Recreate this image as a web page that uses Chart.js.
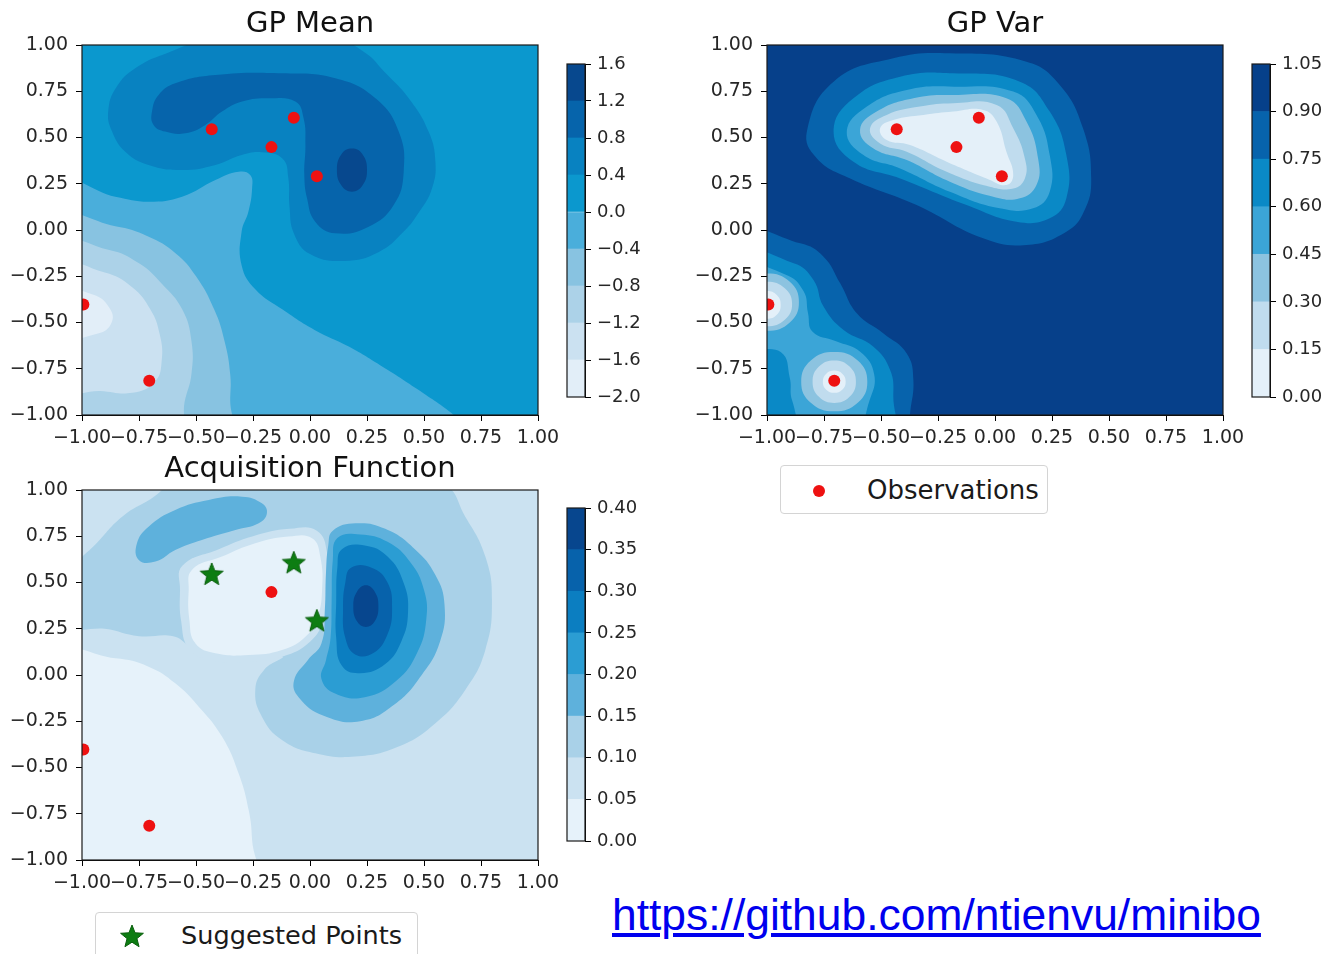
<!DOCTYPE html>
<html>
<head>
<meta charset="utf-8">
<title>GP Mean / GP Var / Acquisition Function</title>
<script src="https://cdn.jsdelivr.net/npm/chart.js@4.4.1/dist/chart.umd.min.js"></script>
<style>
  body { margin: 0; background: #fff; }
  #page { position: relative; width: 1326px; height: 954px; overflow: hidden; font-family: 'DejaVu Sans', sans-serif; color: #1a1a1a; }
  .pane { position: absolute; }
  .legend { position: absolute; box-sizing: border-box; border: 1px solid #d4d4d4; border-radius: 4px; background: #fff; }
  .legend .txt { position: absolute; white-space: nowrap; line-height: 1; }
  .legend .dot { position: absolute; width: 12px; height: 12px; border-radius: 50%; background: #ee1111; }
  .legend canvas { position: absolute; }
  #url { position: absolute; left: 612px; top: 893px; font: 44.4px/44px 'Liberation Sans', Arial, sans-serif; color: #0000ee; text-decoration: underline; white-space: nowrap; }
</style>
</head>
<body>
<div id="page">
  <div class="pane" style="left:0;top:0;width:570px;height:450px"><canvas id="meanChart"></canvas></div>
  <div class="pane" style="left:555px;top:40px;width:105px;height:380px"><canvas id="meanBar"></canvas></div>
  <div class="pane" style="left:685px;top:0;width:570px;height:450px"><canvas id="varChart"></canvas></div>
  <div class="pane" style="left:1240px;top:40px;width:86px;height:380px"><canvas id="varBar"></canvas></div>
  <div class="pane" style="left:0;top:445px;width:570px;height:450px"><canvas id="acqChart"></canvas></div>
  <div class="pane" style="left:555px;top:484px;width:105px;height:380px"><canvas id="acqBar"></canvas></div>

  <div class="legend" style="left:780px;top:465px;width:268px;height:49px">
    <span class="dot" style="left:32px;top:19px"></span>
    <span class="txt" style="left:86px;top:11px;font-size:26px">Observations</span>
  </div>
  <div class="legend" id="sugLegend" style="left:95px;top:912px;width:323px;height:60px">
    <span class="txt" style="left:85px;top:10px;font-size:25.6px">Suggested Points</span>
  </div>
  <div id="url">https://github.com/ntienvu/minibo</div>
</div>
<script>
'use strict';

// ── POINTS ──
const OBS_X = [-0.431, -0.169, -0.071, 0.030, -0.994, -0.705];
const OBS_Y = [0.544, 0.448, 0.607, 0.290, -0.403, -0.815];
const SUGGEST_X = [-0.431, -0.071, 0.030];
const SUGGEST_Y = [0.541, 0.604, 0.290];

// ── TICKS / LEVELS ──
const AXIS_TICKS = [-1, -0.75, -0.5, -0.25, 0, 0.25, 0.5, 0.75, 1];
const MEAN_LEVELS = [-2.0, -1.6, -1.2, -0.8, -0.4, 0.0, 0.4, 0.8, 1.2, 1.6];
const VAR_LEVELS = [0, 0.15, 0.30, 0.45, 0.60, 0.75, 0.90, 1.05];
const ACQ_LEVELS = [0, 0.05, 0.10, 0.15, 0.20, 0.25, 0.30, 0.35, 0.40];

const MEAN_COLORS = ['#e2eef8', '#cbe1f1', '#acd2e8', '#88c3e1', '#4aaedb', '#0b98ce', '#0882c1', '#0664ab', '#07488e'];
const VAR_COLORS = ['#e4f0f9', '#c0dcee', '#8cc3e0', '#3ba5d7', '#0a89c6', '#0763ac', '#06408a'];
const ACQ_COLORS = ['#e6f2fa', '#cbe2f1', '#a9d1e8', '#5eb1dc', '#2b9dd3', '#0b7ec1', '#0762ab', '#07468e'];

// ── CONTOUR OUTLINES (data coords) ──
const FULL = [[-1.5, -1.5], [1.5, -1.5], [1.5, 1.5], [-1.5, 1.5]];

const MEAN_LOW_B4 = [[-1.1, 0.24], [-0.854, 0.18], [-0.708, 0.153], [-0.561, 0.18], [-0.415, 0.27], [-0.313, 0.315], [-0.262, 0.297], [-0.254, 0.225], [-0.27, 0.10], [-0.30, -0.01], [-0.30, -0.19], [-0.24, -0.32], [-0.12, -0.43], [0.02, -0.54], [0.17, -0.63], [0.32, -0.74], [0.47, -0.86], [0.65, -1.02], [0.75, -1.15], [-1.15, -1.15]];
const MEAN_LOW_B3 = [[-1.1, 0.05], [-0.854, 0.02], [-0.71, -0.035], [-0.59, -0.125], [-0.50, -0.25], [-0.42, -0.43], [-0.375, -0.6], [-0.35, -0.78], [-0.35, -0.92], [-0.355, -1.15], [-1.15, -1.15]];
const MEAN_LOW_B2 = [[-1.1, -0.085], [-0.88, -0.108], [-0.75, -0.18], [-0.65, -0.29], [-0.56, -0.43], [-0.52, -0.6], [-0.52, -0.78], [-0.55, -0.93], [-0.58, -1.15], [-1.15, -1.15]];
const MEAN_LOW_B1 = [[-1.1, -0.2], [-0.9, -0.23], [-0.78, -0.31], [-0.70, -0.43], [-0.66, -0.56], [-0.65, -0.70], [-0.68, -0.82], [-0.78, -0.88], [-0.92, -0.87], [-1.1, -0.86]];
const MEAN_LOW_B0 = [[-1.1, -0.33], [-0.95, -0.35], [-0.88, -0.42], [-0.87, -0.50], [-0.93, -0.56], [-1.1, -0.57]];
const MEAN_ARC_B6 = [[-0.885, 0.64], [-0.85, 0.77], [-0.76, 0.88], [-0.62, 0.96], [-0.45, 1.03], [-0.2, 1.06], [0.10, 1.04], [0.24, 0.96], [0.33, 0.85], [0.433, 0.712], [0.52, 0.532], [0.55, 0.369], [0.535, 0.225], [0.48, 0.10], [0.41, -0.01], [0.30, -0.12], [0.15, -0.167], [0.0, -0.13], [-0.07, -0.02], [-0.09, 0.13], [-0.095, 0.28], [-0.12, 0.385], [-0.21, 0.42], [-0.30, 0.405], [-0.415, 0.351], [-0.561, 0.324], [-0.708, 0.351], [-0.81, 0.423], [-0.868, 0.532]];
const MEAN_HOOK_B7 = [[-0.686, 0.568], [-0.693, 0.640], [-0.664, 0.730], [-0.591, 0.793], [-0.415, 0.838], [-0.123, 0.847], [0.111, 0.820], [0.287, 0.712], [0.389, 0.532], [0.411, 0.315], [0.367, 0.135], [0.257, 0.018], [0.111, -0.018], [0.023, 0.045], [-0.013, 0.171], [-0.025, 0.30], [-0.02, 0.46], [-0.028, 0.604], [-0.064, 0.694], [-0.181, 0.712], [-0.298, 0.694], [-0.386, 0.640], [-0.459, 0.568], [-0.547, 0.523], [-0.635, 0.532]];
const MEAN_BLOB_B8 = [[0.184, 0.441], [0.23, 0.41], [0.25, 0.324], [0.23, 0.24], [0.184, 0.207], [0.138, 0.24], [0.118, 0.324], [0.138, 0.41]];

const VAR_TOP_V5 = [[-0.825, 0.532], [-0.708, 0.802], [-0.446, 0.928], [-0.198, 0.955], [0.138, 0.91], [0.284, 0.784], [0.386, 0.55], [0.422, 0.279], [0.39, 0.10], [0.313, -0.009], [0.138, -0.081], [-0.052, -0.045], [-0.344, 0.135], [-0.635, 0.279], [-0.781, 0.387]];
const VAR_TOP_V4 = [[-0.708, 0.532], [-0.621, 0.712], [-0.416, 0.829], [-0.183, 0.847], [0.109, 0.802], [0.24, 0.64], [0.313, 0.405], [0.313, 0.171], [0.24, 0.063], [0.094, 0.045], [-0.125, 0.135], [-0.416, 0.279], [-0.621, 0.369]];
const VAR_TOP_V3 = [[-0.65, 0.532], [-0.562, 0.667], [-0.387, 0.757], [-0.18, 0.775], [0.08, 0.748], [0.182, 0.622], [0.24, 0.405], [0.24, 0.207], [0.167, 0.117], [0.021, 0.117], [-0.198, 0.207], [-0.416, 0.333], [-0.577, 0.405]];
const VAR_TOP_V2 = [[-0.592, 0.541], [-0.519, 0.64], [-0.358, 0.712], [-0.18, 0.73], [0.05, 0.712], [0.138, 0.586], [0.189, 0.387], [0.182, 0.243], [0.109, 0.171], [-0.008, 0.18], [-0.198, 0.261], [-0.387, 0.378], [-0.533, 0.441]];
const VAR_TOP_V1 = [[-0.548, 0.55], [-0.475, 0.622], [-0.329, 0.667], [-0.183, 0.685], [0.007, 0.676], [0.08, 0.55], [0.131, 0.387], [0.131, 0.279], [0.08, 0.225], [-0.023, 0.234], [-0.212, 0.315], [-0.387, 0.423], [-0.504, 0.468]];
const VAR_TOP_V0 = [[-0.504, 0.55], [-0.446, 0.595], [-0.314, 0.622], [-0.183, 0.64], [-0.052, 0.649], [0.007, 0.586], [0.05, 0.423], [0.08, 0.297], [0.05, 0.243], [-0.037, 0.279], [-0.212, 0.369], [-0.373, 0.459], [-0.475, 0.486]];
const VAR_LOW_V5 = [[-1.1, -0.036], [-0.854, -0.072], [-0.752, -0.144], [-0.679, -0.288], [-0.606, -0.45], [-0.489, -0.559], [-0.387, -0.667], [-0.358, -0.811], [-0.373, -1.0], [-0.38, -1.15], [-1.15, -1.15]];
const VAR_LOW_V4 = [[-1.1, -0.144], [-0.883, -0.18], [-0.796, -0.27], [-0.752, -0.414], [-0.664, -0.541], [-0.533, -0.631], [-0.46, -0.757], [-0.446, -0.901], [-0.46, -1.15], [-1.15, -1.15]];
const VAR_LOW_V3 = [[-1.1, -0.21], [-0.92, -0.24], [-0.84, -0.33], [-0.82, -0.45], [-0.80, -0.55], [-0.70, -0.60], [-0.59, -0.66], [-0.53, -0.78], [-0.55, -0.92], [-0.62, -1.1], [-0.82, -1.1], [-0.89, -0.92], [-0.90, -0.80], [-0.94, -0.66], [-1.1, -0.62]];
const VAR_EDGE_V2 = [[-0.86, -0.39], [-0.90, -0.28], [-1, -0.235], [-1.1, -0.28], [-1.14, -0.39], [-1.1, -0.50], [-1, -0.545], [-0.90, -0.50]];
const VAR_EDGE_V1 = [[-0.89, -0.40], [-0.922, -0.315], [-1, -0.28], [-1.078, -0.315], [-1.11, -0.40], [-1.078, -0.485], [-1, -0.52], [-0.922, -0.485]];
const VAR_EDGE_V0 = [[-0.94, -0.405], [-0.957, -0.352], [-1, -0.33], [-1.043, -0.352], [-1.06, -0.405], [-1.043, -0.458], [-1, -0.48], [-0.957, -0.458]];
const VAR_PIT_V2 = [[-0.56, -0.82], [-0.602, -0.706], [-0.705, -0.66], [-0.808, -0.706], [-0.85, -0.82], [-0.808, -0.934], [-0.705, -0.98], [-0.602, -0.934]];
const VAR_PIT_V1 = [[-0.61, -0.82], [-0.638, -0.738], [-0.705, -0.705], [-0.772, -0.738], [-0.80, -0.82], [-0.772, -0.902], [-0.705, -0.935], [-0.638, -0.902]];
const VAR_PIT_V0 = [[-0.655, -0.82], [-0.67, -0.777], [-0.705, -0.76], [-0.74, -0.777], [-0.755, -0.82], [-0.74, -0.863], [-0.705, -0.88], [-0.67, -0.863]];

const ACQ_LOW_A0 = [[-1.1, 0.099], [-0.854, 0.09], [-0.708, 0.045], [-0.591, -0.045], [-0.488, -0.171], [-0.386, -0.333], [-0.313, -0.532], [-0.269, -0.73], [-0.254, -0.892], [-0.25, -1.15], [-1.15, -1.15]];
const ACQ_RING_A2 = [[-1.1, 0.27], [-1.05, 0.55], [-0.93, 0.72], [-0.82, 0.86], [-0.70, 0.95], [-0.56, 1.06], [0.1, 1.08], [0.58, 1.03], [0.681, 0.856], [0.769, 0.64], [0.798, 0.405], [0.769, 0.135], [0.681, -0.081], [0.55, -0.261], [0.389, -0.387], [0.199, -0.441], [0.023, -0.423], [-0.123, -0.351], [-0.211, -0.225], [-0.24, -0.081], [-0.20, 0.03], [-0.12, 0.10], [-0.27, 0.09], [-0.43, 0.10], [-0.53, 0.16], [-0.60, 0.21], [-0.75, 0.21], [-0.90, 0.25]];
const ACQ_BOX_A1 = [[-0.56, 0.59], [-0.40, 0.68], [-0.25, 0.75], [-0.09, 0.79], [0.03, 0.78], [0.075, 0.66], [0.08, 0.46], [0.06, 0.30], [0.0, 0.18], [-0.12, 0.10], [-0.27, 0.07], [-0.43, 0.08], [-0.53, 0.14], [-0.565, 0.29], [-0.57, 0.46]];
const ACQ_BOX_A0 = [[-0.518, 0.568], [-0.386, 0.64], [-0.24, 0.712], [-0.094, 0.748], [0.009, 0.739], [0.045, 0.64], [0.053, 0.459], [0.031, 0.306], [-0.02, 0.207], [-0.123, 0.135], [-0.269, 0.108], [-0.415, 0.117], [-0.503, 0.171], [-0.529, 0.297], [-0.532, 0.459]];
const ACQ_ARC_A3 = [[-0.751, 0.622], [-0.759, 0.712], [-0.708, 0.802], [-0.591, 0.892], [-0.444, 0.946], [-0.298, 0.964], [-0.211, 0.928], [-0.189, 0.874], [-0.225, 0.82], [-0.327, 0.784], [-0.474, 0.73], [-0.591, 0.676], [-0.678, 0.613]];
const ACQ_BLOB_A3 = [[0.10, 0.78], [0.20, 0.82], [0.33, 0.79], [0.46, 0.68], [0.55, 0.54], [0.59, 0.38], [0.57, 0.18], [0.49, 0.0], [0.37, -0.16], [0.22, -0.25], [0.06, -0.22], [-0.05, -0.12], [-0.07, -0.03], [-0.01, 0.08], [0.05, 0.17], [0.065, 0.35], [0.07, 0.55], [0.08, 0.70]];
const ACQ_BLOB_A4 = [[0.12, 0.74], [0.22, 0.76], [0.34, 0.72], [0.44, 0.61], [0.50, 0.46], [0.51, 0.30], [0.47, 0.12], [0.38, -0.03], [0.24, -0.12], [0.11, -0.10], [0.05, -0.02], [0.07, 0.08], [0.09, 0.20], [0.095, 0.40], [0.10, 0.62]];
const ACQ_BLOB_A5 = [[0.14, 0.68], [0.24, 0.70], [0.34, 0.64], [0.41, 0.50], [0.43, 0.34], [0.40, 0.18], [0.33, 0.06], [0.22, 0.01], [0.14, 0.05], [0.115, 0.20], [0.115, 0.40], [0.12, 0.58]];
const ACQ_BLOB_A6 = [[0.18, 0.58], [0.27, 0.58], [0.34, 0.50], [0.36, 0.36], [0.34, 0.22], [0.28, 0.12], [0.20, 0.11], [0.155, 0.20], [0.145, 0.36], [0.155, 0.50]];
const ACQ_BLOB_A7 = [[0.30, 0.37], [0.284, 0.45], [0.245, 0.485], [0.206, 0.45], [0.19, 0.37], [0.206, 0.29], [0.245, 0.26], [0.284, 0.29]];

// painter's order: [outline, band index]
const MEAN_LAYERS = [[FULL, 5], [MEAN_LOW_B4, 4], [MEAN_LOW_B3, 3], [MEAN_LOW_B2, 2], [MEAN_LOW_B1, 1], [MEAN_LOW_B0, 0],
  [MEAN_ARC_B6, 6], [MEAN_HOOK_B7, 7], [MEAN_BLOB_B8, 8]];
const VAR_LAYERS = [[FULL, 6], [VAR_TOP_V5, 5], [VAR_TOP_V4, 4], [VAR_TOP_V3, 3], [VAR_TOP_V2, 2], [VAR_TOP_V1, 1], [VAR_TOP_V0, 0],
  [VAR_LOW_V5, 5], [VAR_LOW_V4, 4], [VAR_LOW_V3, 3], [VAR_EDGE_V2, 2], [VAR_EDGE_V1, 1], [VAR_EDGE_V0, 0],
  [VAR_PIT_V2, 2], [VAR_PIT_V1, 1], [VAR_PIT_V0, 0]];
const ACQ_LAYERS = [[FULL, 1], [ACQ_LOW_A0, 0], [ACQ_RING_A2, 2], [ACQ_BOX_A1, 1], [ACQ_BOX_A0, 0], [ACQ_ARC_A3, 3],
  [ACQ_BLOB_A3, 3], [ACQ_BLOB_A4, 4], [ACQ_BLOB_A5, 5], [ACQ_BLOB_A6, 6], [ACQ_BLOB_A7, 7]];

// ── HELPERS ──
const FONT = 'DejaVu Sans';
const TICK_FONT = { family: FONT, size: 19 };
const minus = s => s.replace('-', '\u2212');

// wrap the outline so the spline closes smoothly
const closeLoop = pts => [pts[pts.length - 1], ...pts, pts[0], pts[1]];

const makeStar = () => {
  const c = document.createElement('canvas');
  c.width = c.height = 26;
  const g = c.getContext('2d');
  g.beginPath();
  for (let k = 0; k < 10; k++) {
    const r = k % 2 ? 5.2 : 12;
    const a = -Math.PI / 2 + k * Math.PI / 5;
    g.lineTo(13 + r * Math.cos(a), 13 + r * Math.sin(a));
  }
  g.closePath();
  g.fillStyle = '#0d7d12';
  g.fill();
  g.strokeStyle = '#0a5e0d';
  g.lineWidth = 1;
  g.stroke();
  return c;
};

const framePlugin = {
  id: 'frame',
  afterDatasetsDraw(chart) {
    const { ctx, chartArea: a } = chart;
    ctx.save();
    ctx.strokeStyle = '#1a1a1a';
    ctx.lineWidth = 1.2;
    ctx.strokeRect(a.left, a.top, a.right - a.left, a.bottom - a.top);
    ctx.restore();
  },
};

const axisScale = (position, fit, pad) => ({
  type: 'linear',
  position,
  min: -1,
  max: 1,
  afterBuildTicks: s => { s.ticks = AXIS_TICKS.map(value => ({ value })); },
  afterFit: fit,
  ticks: {
    callback: v => minus(v.toFixed(2)),
    font: TICK_FONT, color: '#262626', padding: pad,
    autoSkip: false, maxRotation: 0, minRotation: 0,
  },
  grid: { drawOnChartArea: false, drawTicks: true, tickLength: 6, color: '#000', lineWidth: 1 },
  border: { display: true, color: '#000' },
});

// ── CONTOUR PANEL ──
const contourChart = (id, title, layers, colors, dots, stars) => {
  const datasets = layers.map(([pts, band], i) => ({
    type: 'line',
    data: closeLoop(pts).map(([x, y]) => ({ x, y })),
    backgroundColor: colors[band],
    borderColor: 'transparent',
    borderWidth: 0,
    pointRadius: 0,
    fill: 'shape',
    tension: 0.45,
    order: 1000 - i,
  }));

  datasets.push({
    type: 'scatter',
    data: dots,
    pointRadius: 6,
    pointBackgroundColor: '#ee1111',
    pointBorderWidth: 0,
    clip: 0,
    order: 1,
  });

  if (stars) {
    datasets.push({
      type: 'scatter',
      data: stars,
      pointStyle: makeStar(),
      pointRadius: 12,
      clip: 0,
      order: 0,
    });
  }

  return new Chart(document.getElementById(id), {
    type: 'line',
    data: { datasets },
    options: {
      responsive: true,
      maintainAspectRatio: false,
      animation: false,
      events: [],
      layout: { padding: { left: 0, right: 32, top: 0, bottom: 0 } },
      elements: { line: { capBezierPoints: false } },
      plugins: {
        legend: { display: false },
        tooltip: { enabled: false },
        title: {
          display: true, text: title, fullSize: false,
          font: { family: FONT, size: 29, weight: 'normal' }, color: '#111',
          padding: { top: 7, bottom: 3.2 },
        },
      },
      scales: {
        x: axisScale('bottom', s => { s.height = 35; }, 6),
        y: axisScale('left', s => { s.width = 82; }, 8),
      },
    },
    plugins: [framePlugin],
  });
};

// ── COLORBAR ──
const colorbar = (id, levels, colors, digits, axisWidth) => {
  const datasets = colors.map((c, i) => ({
    data: [[levels[i], levels[i + 1]]],
    backgroundColor: c,
    borderWidth: 0,
    barPercentage: 1,
    categoryPercentage: 1,
    grouped: false,
  }));
  return new Chart(document.getElementById(id), {
    type: 'bar',
    data: { labels: [''], datasets },
    options: {
      responsive: true,
      maintainAspectRatio: false,
      animation: false,
      events: [],
      layout: { padding: { left: 12, right: 0, top: 24, bottom: 23 } },
      plugins: { legend: { display: false }, tooltip: { enabled: false } },
      scales: {
        x: { display: false },
        y: {
          position: 'right',
          min: levels[0],
          max: levels[levels.length - 1],
          afterBuildTicks: s => { s.ticks = levels.map(value => ({ value })); },
          afterFit: s => { s.width = axisWidth; },
          ticks: { callback: v => minus(v.toFixed(digits)), font: { family: FONT, size: 18 }, color: '#262626', padding: 6 },
          grid: { drawOnChartArea: false, drawTicks: true, tickLength: 6, color: '#000' },
          border: { display: true, color: '#000' },
        },
      },
    },
    plugins: [framePlugin],
  });
};

// ── BUILD ──
const obsPoints = OBS_X.map((x, i) => ({ x, y: OBS_Y[i] }));
const starPoints = SUGGEST_X.map((x, i) => ({ x, y: SUGGEST_Y[i] }));
const freeObs = obsPoints.filter(p => !starPoints.some(s => Math.abs(s.x - p.x) < 0.02 && Math.abs(s.y - p.y) < 0.02));

contourChart('meanChart', 'GP Mean', MEAN_LAYERS, MEAN_COLORS, obsPoints, null);
contourChart('varChart', 'GP Var', VAR_LAYERS, VAR_COLORS, obsPoints, null);
contourChart('acqChart', 'Acquisition Function', ACQ_LAYERS, ACQ_COLORS, freeObs, starPoints);

colorbar('meanBar', MEAN_LEVELS, MEAN_COLORS, 1, 75);
colorbar('varBar', VAR_LEVELS, VAR_COLORS, 2, 56);
colorbar('acqBar', ACQ_LEVELS, ACQ_COLORS, 2, 75);

// legend star
const legendStar = makeStar();
legendStar.style.left = '23px';
legendStar.style.top = '11px';
document.getElementById('sugLegend').appendChild(legendStar);
</script>
</body>
</html>
